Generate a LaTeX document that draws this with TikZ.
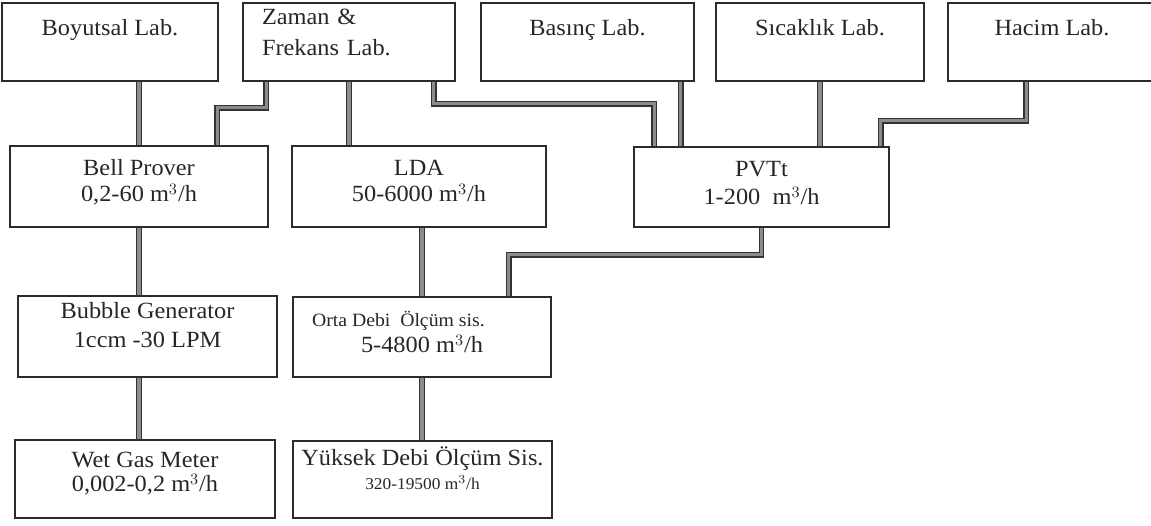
\documentclass[tikz,border=0pt]{standalone}
\usepackage{fontspec}
\setmainfont{Liberation Serif}[FakeStretch=1.05]
\usetikzlibrary{positioning,calc}
\definecolor{boxInk}{HTML}{2B2B2B}
\definecolor{pipeInk}{HTML}{333333}
\definecolor{pipeFill}{HTML}{8C8C8C}

\begin{document}
\begin{tikzpicture}[font=\fontsize{13.2}{16.2}\selectfont,text=black!85,
    labbox/.style={draw=boxInk,line width=0.7pt,inner sep=0pt,align=center,
                   minimum height=1.56cm,text height=0.66cm,text depth=0.9cm},
    devbox/.style={draw=boxInk,line width=0.7pt,inner sep=0pt,align=center},
    pipe/.style={draw=pipeInk,line width=0.6pt,double=pipeFill,double distance=2.1pt}]
  \useasboundingbox (0,0) rectangle (23.02,-10.52);
  % laboratuvarlar
  \node[labbox,minimum width=4.32cm] (boy) at (2.2,-0.84) {Boyutsal Lab.};
  \node[labbox,minimum width=4.24cm,text width=3.48cm,align=left,
        text height=0.44cm,text depth=1.12cm] (zam) at (6.98,-0.84) {Zaman \&\\[1.4pt]Frekans Lab.};
  \node[labbox,minimum width=4.26cm] (bas) at (11.75,-0.84) {Basınç Lab.};
  \node[labbox,minimum width=4.16cm] (sic) at (16.4,-0.84) {Sıcaklık Lab.};
  \node[labbox,minimum width=4.16cm] (hac) at (21.04,-0.84) {Hacim Lab.};
  % sistemler
  \node[devbox,minimum width=5.16cm,text height=1.12cm,text depth=0.5cm] (bel) at (2.78,-3.73)
    {Bell Prover\\[-1pt]0,2-60 m$^3$/h};
  \node[devbox,minimum width=5.08cm,text height=1.12cm,text depth=0.5cm] (lda) at (8.38,-3.73)
    {LDA\\[-1pt]50-6000 m$^3$/h};
  \node[devbox,minimum width=5.1cm,text height=1.16cm,text depth=0.44cm] (pvt) at (15.23,-3.74)
    {PVTt\\1-200~ m$^3$/h};
  \node[devbox,minimum width=5.18cm,text height=1.04cm,text depth=0.58cm] (bub) at (2.95,-6.73)
    {Bubble Generator\\[0.8pt]1ccm -30 LPM};
  \node[devbox,minimum width=5.16cm,text height=1.12cm,text depth=0.48cm] (ort) at (8.44,-6.74)
    {\makebox[4.4cm][l]{\fontsize{10.7}{12.8}\selectfont Orta Debi~ Ölçüm sis.}\\[-1pt]5-4800 m$^3$/h};
  \node[devbox,minimum width=5.2cm,text height=1.04cm,text depth=0.52cm] (wet) at (2.9,-9.58)
    {Wet Gas Meter\\[-2pt]0,002-0,2 m$^3$/h};
  \node[devbox,minimum width=5.18cm,text height=0.98cm,text depth=0.56cm] (yuk) at (8.45,-9.59)
    {Yüksek Debi Ölçüm Sis.\\[-2.5pt]{\fontsize{9.4}{11.3}\selectfont 320-19500 m$^3$/h}};
  % baglantilar
  \draw[pipe] (boy.south -| bel.north) -- (bel.north);
  \draw[pipe] ([xshift=4.8mm]zam.south west) -- ++(0,-0.52) -| ([xshift=41.6mm]bel.north west);
  \draw[pipe] (zam.south) -- (zam.south |- lda.north);
  \draw[pipe] ([xshift=-4.4mm]zam.south east) -- ++(0,-0.44) -| ([xshift=4.2mm]pvt.north west);
  \draw[pipe] ([xshift=-2.8mm]bas.south east) -- ([xshift=-2.8mm]bas.south east |- pvt.north);
  \draw[pipe] (sic.south) -- (sic.south |- pvt.north);
  \draw[pipe] ([xshift=15.8mm]hac.south west) -- ++(0,-0.78) -| ([xshift=-1.8mm]pvt.north east);
  \draw[pipe] (bel.south) -- (bel.south |- bub.north);
  \draw[pipe] (lda.south -| ort.north) -- (ort.north);
  \draw[pipe] (pvt.south) -- ++(0,-0.54) -| ([xshift=-8.6mm]ort.north east);
  \draw[pipe] (bub.south -| bel.south) -- (wet.north -| bel.south);
  \draw[pipe] (ort.south) -- (ort.south |- yuk.north);
\end{tikzpicture}
\end{document}
